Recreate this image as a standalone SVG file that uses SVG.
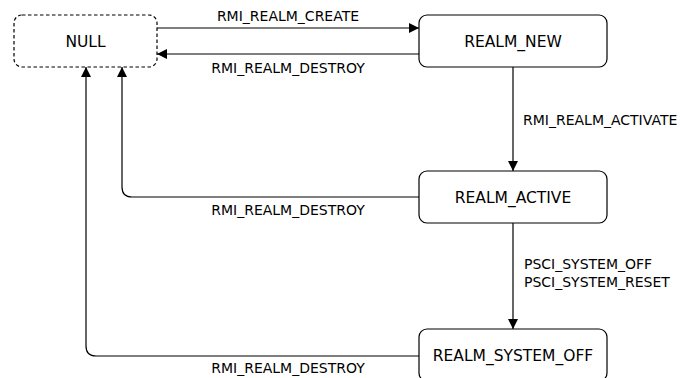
<svg xmlns="http://www.w3.org/2000/svg" width="697" height="378" viewBox="0 0 697 378">
<style>
.box{fill:#fff;stroke:#000;stroke-width:1.2}
.dash{stroke-dasharray:3.5,2.5}
.ntext{font-family:"DejaVu Sans",sans-serif;font-size:15.5px;fill:#000;text-anchor:middle}
.ltext{font-family:"DejaVu Sans",sans-serif;font-size:14px;fill:#000}
.mid{text-anchor:middle}
.edge{fill:none;stroke:#000;stroke-width:1.2}
</style>
<defs>
<marker id="arr" markerUnits="userSpaceOnUse" markerWidth="10" markerHeight="10" refX="10" refY="5" orient="auto">
<path d="M0,0 L10,5 L0,10 z" fill="#000"/>
</marker>
</defs>
<rect width="697" height="378" fill="#fff"/>
<g id="connectors">
<path class="edge" d="M157,28 H419" marker-end="url(#arr)"/>
<path class="edge" d="M419,54 H157" marker-end="url(#arr)"/>
<path class="edge" d="M513,67 V171" marker-end="url(#arr)"/>
<path class="edge" d="M419,197 H132 Q122,197 122,187 V67" marker-end="url(#arr)"/>
<path class="edge" d="M513,223 V329" marker-end="url(#arr)"/>
<path class="edge" d="M419,356 H96 Q86,356 86,346 V67" marker-end="url(#arr)"/>
<text class="ltext mid" x="288" y="20.5">RMI_REALM_CREATE</text>
<text class="ltext mid" x="288" y="73">RMI_REALM_DESTROY</text>
<text class="ltext" x="523" y="125">RMI_REALM_ACTIVATE</text>
<text class="ltext mid" x="288" y="215">RMI_REALM_DESTROY</text>
<text class="ltext" x="524" y="269">PSCI_SYSTEM_OFF</text>
<text class="ltext" x="524" y="287">PSCI_SYSTEM_RESET</text>
<text class="ltext mid" x="288" y="373">RMI_REALM_DESTROY</text>
</g>
<g id="node-null">
<rect class="box dash" x="14" y="15" width="143" height="52" rx="8"/>
<text class="ntext" x="85.5" y="46.5">NULL</text>
</g>
<g id="node-realm-new">
<rect class="box" x="419" y="15" width="188" height="52" rx="8"/>
<text class="ntext" x="513" y="46.5">REALM_NEW</text>
</g>
<g id="node-realm-active">
<rect class="box" x="419" y="171" width="188" height="52" rx="8"/>
<text class="ntext" x="513" y="203">REALM_ACTIVE</text>
</g>
<g id="node-realm-system-off">
<rect class="box" x="419" y="329" width="188" height="52" rx="8"/>
<text class="ntext" x="513" y="360.7">REALM_SYSTEM_OFF</text>
</g>
</svg>
